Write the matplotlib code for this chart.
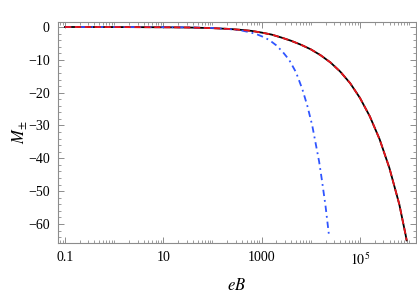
import numpy as np
import matplotlib
matplotlib.use('Agg')
from matplotlib import pyplot as plt
from matplotlib import ticker

plt.rcParams['font.family'] = ['Liberation Serif', 'DejaVu Serif']
plt.rcParams['mathtext.fontset'] = 'stix'

# values (log10 of eB, M)
logB_full = [-1.0, 0.0, 1.0, 1.5, 2.0, 2.35, 2.6, 2.8, 3.0, 3.2, 3.4, 3.6, 3.8,
             4.0, 4.2, 4.4, 4.6, 4.8, 5.0, 5.2, 5.4, 5.6, 5.8, 5.93, 5.95]
M_full = [0.0, -0.02, -0.08, -0.15, -0.35, -0.6, -0.9, -1.2, -1.7, -2.3, -3.2,
          -4.2, -5.4, -6.8, -8.6, -10.8, -13.6, -17.1, -21.6, -27.2, -34.2,
          -43.0, -54.0, -63.4, -65.0]
M_approx = [0.0, -0.02, -0.08, -0.15, -0.35, -0.6, -0.9, -1.2, -1.7, -2.3, -3.2,
            -4.2, -5.4, -6.8, -8.6, -10.8, -13.6, -17.1, -21.6, -27.2, -34.2,
            -43.0, -54.0, -63.4, -65.0]

logB_weak = [-1.0, 0.0, 1.0, 1.5, 2.0, 2.35, 2.6, 2.76, 2.9, 3.03, 3.16, 3.3,
             3.43, 3.56, 3.7, 3.83, 3.93, 4.03, 4.1, 4.17, 4.23, 4.3, 4.37]
M_weak = [0.0, 0.0, -0.05, -0.1, -0.3, -0.65, -1.1, -1.6, -2.2, -3.0, -4.0,
          -5.6, -7.6, -10.0, -13.8, -19.0, -24.0, -30.0, -35.5, -41.0, -47.0,
          -54.5, -63.4]

xticks = [0.1, 10, 1000, 1e5]
xticklabels = ['0.1', '10', '1000', '$10^5$']
yticks = [0, -10, -20, -30, -40, -50, -60]

fig = plt.figure(figsize=(4.17, 2.95), dpi=100)
ax = fig.add_axes([58/417, 1 - 243/295, (416 - 58)/417, (243 - 22)/295])

ax.plot(10**np.array(logB_full), M_full, color='black', lw=1.3)
ax.plot(10**np.array(logB_weak), M_weak, color='#2f55ff', lw=1.3,
        dashes=(3.5, 2.2, 1.0, 2.2))
ax.plot(10**np.array(logB_full), M_approx, color='#e8141b', lw=1.3,
        dashes=(3.5, 2.0))

ax.set_xscale('log')
ax.set_xlim(10**-1.14, 10**6.14)
ax.set_ylim(-65.8, 1.52)

ax.xaxis.set_major_locator(ticker.FixedLocator(xticks))
ax.xaxis.set_major_formatter(ticker.FixedFormatter(xticklabels))
ax.xaxis.set_minor_locator(ticker.LogLocator(base=10, subs=np.arange(1, 10), numticks=30))
ax.xaxis.set_minor_formatter(ticker.NullFormatter())
ax.yaxis.set_major_locator(ticker.FixedLocator(yticks))
ax.yaxis.set_major_formatter(ticker.FuncFormatter(lambda v, p: '%d' % v if v >= 0 else '\u2212%d' % -v))
ax.yaxis.set_minor_locator(ticker.MultipleLocator(2))

for s in ax.spines.values():
    s.set_color('#8c8c8c')
    s.set_linewidth(0.8)
ax.tick_params(which='both', direction='in', top=True, right=True,
               color='#8c8c8c', labelsize=10, labelcolor='black')
ax.tick_params(which='major', length=4, width=0.7, pad=6)
ax.tick_params(which='minor', length=2, width=0.6)

ax.set_xlabel('$eB$', fontsize=12, labelpad=7)
ax.set_ylabel('$M_{\\pm}$', fontsize=12, labelpad=-1)

fig.savefig('out.png', dpi=100)
